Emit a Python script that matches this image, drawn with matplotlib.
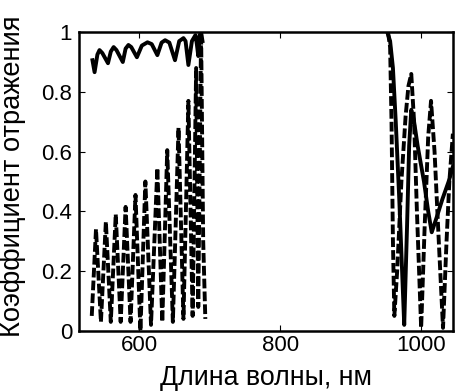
import matplotlib
matplotlib.use("Agg")
import matplotlib.pyplot as plt

plt.rcParams['font.family'] = ['Liberation Sans', 'DejaVu Sans']

# Solid curve, short-wave band
solid_left_nm = [534, 537, 541, 544, 548, 556, 560, 564, 568, 577, 581, 585, 589,
                 597, 604, 612, 618, 626, 632, 637, 643, 651, 657, 663, 666, 670,
                 675, 680, 682, 684, 686, 688, 690]
solid_left_r = [0.906, 0.866, 0.925, 0.94, 0.93, 0.896, 0.935, 0.95, 0.94, 0.90, 0.945,
                0.957, 0.95, 0.916, 0.955, 0.966, 0.96, 0.923, 0.965, 0.973, 0.965, 0.906,
                0.97, 0.98, 0.97, 0.89, 0.97, 0.99, 0.96, 0.92, 0.99, 1.0, 0.97]

# Dashed curve, short-wave band
dashed_left_nm = [533, 539, 546, 553, 560, 567, 574, 581, 588, 595, 602, 609, 617,
                  626, 633, 640, 648, 656, 663, 670, 676, 681, 684, 688, 691, 694]
dashed_left_r = [0.05, 0.34, 0.03, 0.365, 0.03, 0.39, 0.03, 0.415, 0.03, 0.455, 0.0,
                 0.50, 0.02, 0.545, 0.03, 0.605, 0.03, 0.68, 0.04, 0.77, 0.05, 0.88,
                 0.08, 1.0, 0.3, 0.04]

# Solid curve, long-wave band
solid_right_nm = [952, 956, 960, 964, 969, 973, 976, 980, 983, 986, 990, 995, 1004,
                  1010, 1015, 1022, 1030, 1039, 1045]
solid_right_r = [1.0, 0.97, 0.88, 0.70, 0.44, 0.2, 0.02, 0.35, 0.62, 0.74, 0.70, 0.62,
                 0.50, 0.40, 0.33, 0.38, 0.44, 0.50, 0.55]

# Dashed curve, long-wave band
dashed_right_nm = [953, 956, 958, 960, 962, 966, 972, 978, 982, 986, 990, 994, 1000,
                   1005, 1010, 1014, 1019, 1025, 1031, 1036, 1040, 1045]
dashed_right_r = [1.0, 0.95, 0.7, 0.3, 0.05, 0.2, 0.5, 0.72, 0.82, 0.86, 0.7, 0.4,
                  0.01, 0.35, 0.65, 0.77, 0.6, 0.3, 0.01, 0.3, 0.5, 0.66]

x_ticks = [600, 800, 1000]
x_ticklabels = ['600', '800', '1000']
y_ticks = [0, 0.2, 0.4, 0.6, 0.8, 1.0]
y_ticklabels = ['0', '0.2', '0.4', '0.6', '0.8', '1']

fig = plt.figure(figsize=(4.57, 3.92), dpi=100)
ax = fig.add_axes([0.173, 0.156, 0.818, 0.762])

lw = 2.8
ax.plot(solid_left_nm, solid_left_r, color='black', lw=lw, solid_joinstyle='round')
ax.plot(solid_right_nm, solid_right_r, color='black', lw=lw, solid_joinstyle='round')
ax.plot(dashed_left_nm, dashed_left_r, color='black', lw=lw, linestyle=(0, (2.5, 0.8)))
ax.plot(dashed_right_nm, dashed_right_r, color='black', lw=lw, linestyle=(0, (2.5, 0.8)))

ax.set_xlim(515, 1045)
ax.set_ylim(0, 1)
ax.set_xticks(x_ticks)
ax.set_xticklabels(x_ticklabels)
ax.set_yticks(y_ticks)
ax.set_yticklabels(y_ticklabels)
ax.tick_params(direction='in', top=True, right=True, length=4, width=0.8,
               labelsize=16, pad=5)
ax.tick_params(axis='x', pad=3)
for s in ax.spines.values():
    s.set_linewidth(1.8)

xl = ax.set_xlabel('Длина волны, нм', fontsize=18)
yl = ax.set_ylabel('Коэффициент отражения', fontsize=18)

# scale label sizes to the reference text extents (pixels)
fig.canvas.draw()
r = fig.canvas.get_renderer()
wx = xl.get_window_extent(r).width
hy = yl.get_window_extent(r).height
xl.set_fontsize(18 * 212.0 / wx)
yl.set_fontsize(18 * 322.0 / hy)

# place labels inside the canvas
ax.xaxis.set_label_coords(0.5, (331 - 365) / 299.0)
ax.yaxis.set_label_coords((26 - 79) / 374.0, (331 - 176) / 299.0)

fig.savefig('out.png', dpi=100)
